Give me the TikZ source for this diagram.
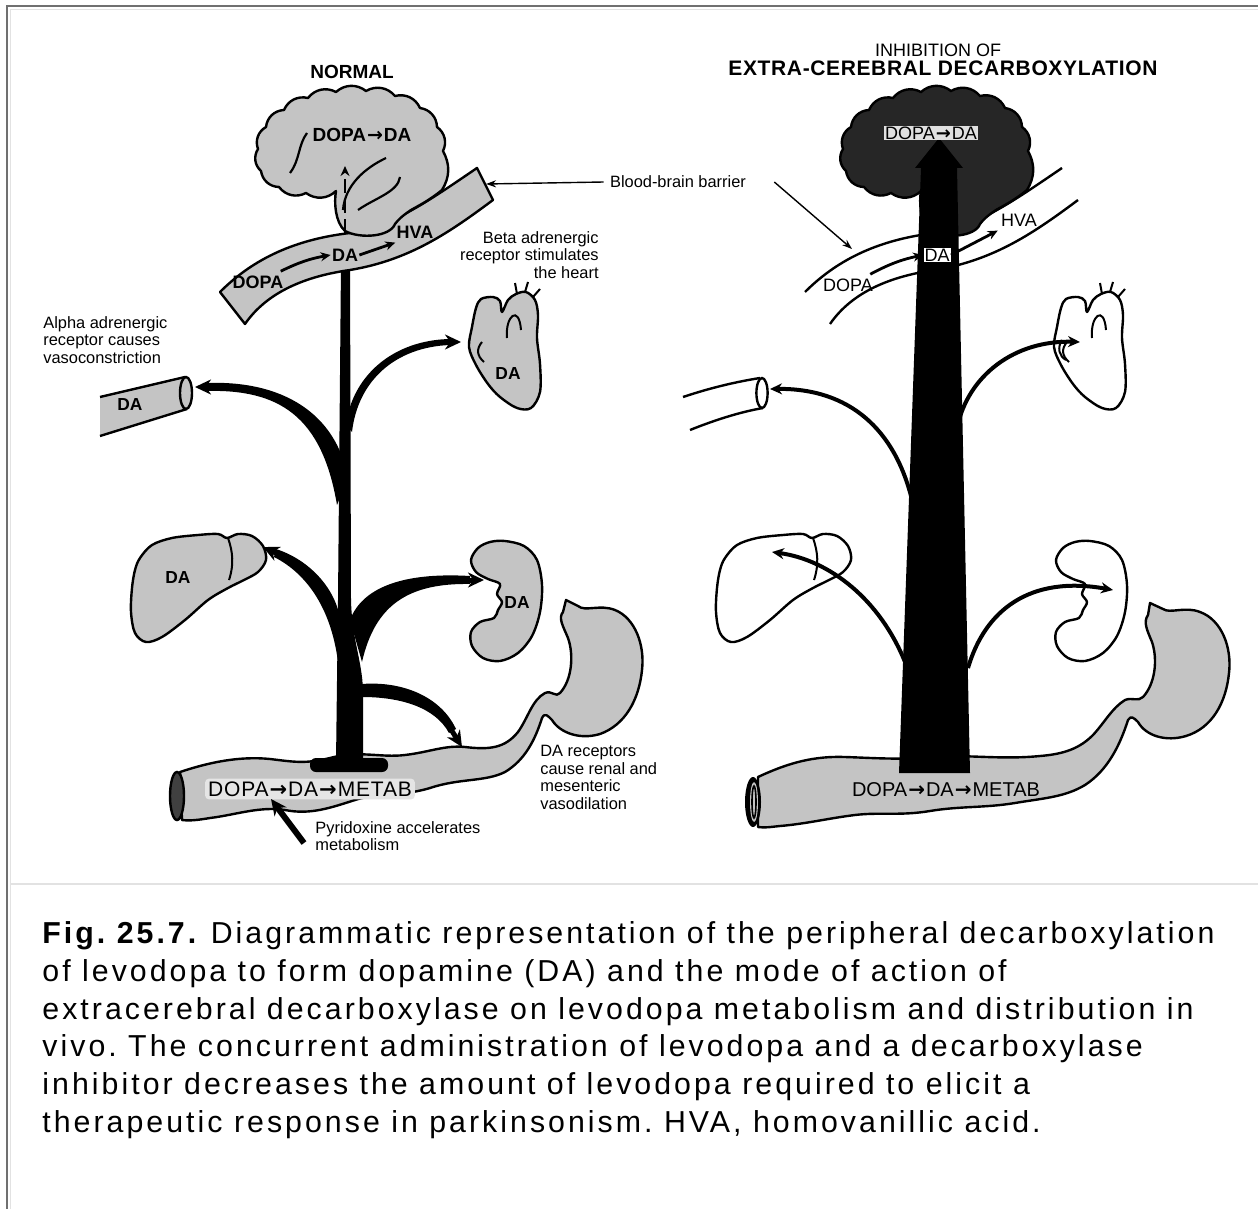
\documentclass[tikz,border=0pt]{standalone}
\usepackage{fontspec}
\setmainfont{Liberation Sans}
\newfontfamily\capfont[LetterSpace=10]{Liberation Sans}
\newfontfamily\arrowfont{DejaVu Sans}
\newcommand\rarr{{\arrowfont\bfseries\kern0.5pt→\kern0.5pt}}
\usetikzlibrary{arrows.meta}
\definecolor{organgray}{RGB}{196,196,196}
\definecolor{framegray}{RGB}{112,112,112}
\definecolor{rulelight}{RGB}{226,226,226}

% ---------- reusable outlines (pixel-like units) ----------
\newcommand\brainshape[1]{%
  \path[#1] (336,191) to[bend left=40] (306,193) to[bend left=40] (279,187)
    to[bend left=40] (261,171) to[bend left=40] (258,149) to[bend left=40] (266,127)
    to[bend left=40] (284,110) to[bend left=40] (308,98) to[bend left=40] (336,92)
    to[bend left=40] (366,91) to[bend left=40] (395,96) to[bend left=40] (420,108)
    to[bend left=40] (437,127) to[bend left=40] (443,151) to[bend left=30] (442,190)
    .. controls (430,200) and (418,206) .. (411,210)
    .. controls (402,216) and (398,220) .. (395,224)
    .. controls (390,237) and (360,239) .. (345,231)
    .. controls (335,222) and (334,202) .. (336,191) -- cycle;}
\newcommand\bandshape[1]{%
  \path[#1] (220,292) .. controls (250,262) and (290,240) .. (350,233)
    .. controls (390,228) and (430,200) .. (477,168) -- (493,200)
    .. controls (450,232) and (410,260) .. (350,270)
    .. controls (300,277) and (265,295) .. (245,324) -- cycle;}
\newcommand\bandedges[1]{%
  \path[#1] (220,292) .. controls (250,262) and (290,240) .. (350,233)
    .. controls (390,228) and (430,200) .. (477,168);
  \path[#1] (493,200) .. controls (450,232) and (410,260) .. (350,270)
    .. controls (300,277) and (265,295) .. (245,324);}
\newcommand\heartshape[1]{%
  \path[#1] plot[smooth cycle, tension=0.55] coordinates {(502,312) (508,300)
    (516,294) (526,292) (535,300) (538,315) (537,338) (540,364) (540,392)
    (531,408) (517,408) (500,397) (488,384) (476,365) (469,347) (472,327)
    (476,308) (481,299) (493,297) (500,301)};}
\newcommand\heartlines[1]{%
  \path[#1] (517,294) -- (515,283) (525,292) -- (528,282) (533,297) -- (540,289);
  \path[#1] (507,338) .. controls (505,316) and (519,304) .. (521,330);
  \path[#1] (482,342) .. controls (476,349) and (477,356) .. (484,362);}
\newcommand\kidneyshape[1]{%
  \path[#1] plot[smooth cycle, tension=0.55] coordinates {(505,541) (524,546)
    (537,560) (542,585) (540,612) (532,636) (518,653) (500,661) (483,658)
    (472,646) (471,632) (480,622) (494,618) (498,610) (502,602) (497,594)
    (500,584) (488,579) (476,572) (471,560) (478,548) (490,542)};}
\newcommand\livershape[1]{%
  \path[#1] plot[smooth cycle, tension=0.55] coordinates {(140,558) (152,545)
    (172,538) (198,535) (218,534) (227,538) (238,534) (252,536) (263,546)
    (266,560) (258,572) (244,580) (228,588) (208,600) (185,620) (162,637)
    (146,642) (135,633) (131,612) (132,588) (135,570)};
  \path[draw, line width=1pt] (228,538) .. controls (233,552) and (234,565) .. (229,580);}
% intestine and stomach, normal side
\newcommand\gutshape[1]{%
  \path[#1] (180,772)
    .. controls (210,762) and (240,756) .. (270,759)
    .. controls (295,762) and (305,764) .. (330,758)
    .. controls (360,750) and (380,758) .. (405,755)
    .. controls (430,752) and (445,745) .. (465,747)
    .. controls (490,750) and (505,748) .. (518,732)
    .. controls (528,718) and (532,700) .. (545,693)
    .. controls (552,690) and (556,698) .. (560,693)
    .. controls (572,680) and (574,655) .. (568,638)
    .. controls (563,626) and (558,618) .. (563,612)
    -- (566,600) -- (578,606)
    .. controls (585,612) and (600,604) .. (615,610)
    .. controls (635,618) and (645,645) .. (642,670)
    .. controls (639,700) and (625,725) .. (600,734)
    .. controls (580,740) and (560,733) .. (552,720)
    .. controls (548,716) and (545,712) .. (542,718)
    .. controls (535,740) and (525,760) .. (505,772)
    .. controls (485,782) and (460,778) .. (430,788)
    .. controls (400,797) and (380,792) .. (355,800)
    .. controls (330,808) and (310,815) .. (285,810)
    .. controls (260,806) and (235,815) .. (210,818)
    .. controls (198,820) and (190,821) .. (182,820) -- cycle;}
% intestine and stomach, inhibited side
\newcommand\gutshapeR[1]{%
  \path[#1] (758,777)
    .. controls (790,762) and (815,756) .. (845,757)
    .. controls (875,758) and (900,760) .. (930,757)
    .. controls (965,754) and (1000,760) .. (1040,756)
    .. controls (1065,754) and (1080,748) .. (1093,735)
    .. controls (1105,722) and (1112,708) .. (1125,700)
    .. controls (1132,697) and (1138,702) .. (1143,697)
    .. controls (1155,684) and (1158,660) .. (1152,642)
    .. controls (1147,630) and (1143,622) .. (1148,615)
    -- (1150,603) -- (1163,609)
    .. controls (1170,614) and (1185,606) .. (1200,612)
    .. controls (1222,620) and (1232,648) .. (1229,673)
    .. controls (1226,703) and (1212,728) .. (1186,736)
    .. controls (1166,742) and (1146,736) .. (1138,722)
    .. controls (1134,718) and (1131,715) .. (1128,720)
    .. controls (1120,745) and (1108,770) .. (1085,785)
    .. controls (1065,797) and (1045,798) .. (1015,803)
    .. controls (985,808) and (960,806) .. (930,811)
    .. controls (900,816) and (880,812) .. (855,815)
    .. controls (830,818) and (805,824) .. (780,826)
    .. controls (770,827) and (765,828) .. (758,827) -- cycle;}

\begin{document}
\frenchspacing
\begin{tikzpicture}[x=0.5pt, y=-0.5pt,
  organ/.style={fill=organgray, draw=black, line width=1.2pt, line join=round},
  hollow/.style={fill=white, draw=black, line width=1.2pt, line join=round},
  lbl/.style={font=\fontsize{8.2}{8.8}\selectfont, inner sep=0pt},
  tag/.style={font=\bfseries\fontsize{8.7}{10}\selectfont, inner sep=0.5pt},
  bandtxt/.style={font=\fontsize{9}{10}\selectfont, inner sep=0.5pt},
  headL/.style={-{Stealth[length=8pt,width=7.5pt]}, line width=2.5pt},
  thinb/.style={-{Stealth[length=6pt,width=5.5pt]}, line width=2pt},
  bandarrow/.style={-{Stealth[length=5pt,width=4.5pt]}, line width=1.4pt},
  pointer/.style={-{Stealth[length=5pt,width=3.5pt]}, line width=0.7pt},
  capline/.style={anchor=base west, inner sep=0pt,
    font=\capfont\fontsize{15.15}{18}\selectfont}
]
\useasboundingbox (0,0) rectangle (1258,1209);
\fill[white] (0,0) rectangle (1258,1209);

% frame and caption rule
\draw[framegray, line width=1pt] (7,1209) -- (7,6) -- (1258,6);
\draw[rulelight, line width=0.7pt] (10.5,1209) -- (10.5,9.5) -- (1258,9.5);
\draw[rulelight, line width=1pt] (11,884) -- (1258,884);

% ================= NORMAL =================
\node[font=\bfseries\fontsize{9.5}{11}\selectfont] (normal) at (352,72) {NORMAL};

% organs
\gutshape{organ}
\fill[black!75] (177,796) ellipse [x radius=3.5pt, y radius=12pt];
\draw[line width=1.2pt] (177,796) ellipse [x radius=3.5pt, y radius=12pt];
\livershape{organ}
\kidneyshape{organ}
\heartshape{organ}
\heartlines{draw, line width=1pt}
% vessel segment
\fill[organgray] (100,397) -- (185,377) -- (187,409) -- (100,436) -- cycle;
\draw[line width=1.2pt] (100,397) -- (185,377) (100,436) -- (187,409);
\draw[line width=1.2pt, fill=organgray] (186,393) ellipse [x radius=3pt, y radius=8pt];

% trunk and branches
\fill (341,262) -- (350,262) -- (351,600) .. controls (352,640) and (362,660) .. (363,690)
  -- (363,762) -- (336,762) -- (338,600) -- cycle;
\fill[rounded corners=3pt] (310,758) rectangle (388,772);
% to the vessel
\fill (348,478) .. controls (336,413) and (282,380) .. (206,383) -- (206,391)
  .. controls (279,389) and (322,416) .. (337,505) -- cycle;
\draw[headL] (212,387) -- (195,387);
% to the heart
\fill (346,425) .. controls (352,376) and (393,340) .. (450,339) -- (450,345)
  .. controls (396,347) and (358,380) .. (352,432) -- cycle;
\draw[headL] (446,342) -- (461,342);
% to the liver
\fill (338,662) .. controls (330,600) and (300,570) .. (274,557) -- (276,549)
  .. controls (310,560) and (338,590) .. (341,625) -- cycle;
\draw[headL] (280,555) -- (263,547);
% to the kidney
\fill (350,620) .. controls (362,588) and (402,572) .. (470,576) -- (470,584)
  .. controls (408,583) and (375,605) .. (362,662) -- cycle;
\draw[headL] (466,580) -- (484,580);
% to the gut wall
\fill (362,684) .. controls (400,681) and (440,695) .. (456,729) -- (449,733)
  .. controls (435,707) and (400,697) .. (362,697) -- cycle;
\draw[headL] (452,731) -- (462,747);

% barrier band and brain
\bandshape{organ}
\brainshape{organ}
\draw[line width=1.1pt] (307,133) .. controls (298,145) and (300,160) .. (290,173);
\draw[line width=1.1pt] (386,158) .. controls (365,168) and (345,185) .. (343,210);
\draw[line width=1.1pt] (400,177) .. controls (398,192) and (375,198) .. (358,210);
\draw[line width=1.2pt, dash pattern=on 7pt off 3pt, -{Stealth[length=5pt,width=4.5pt]}] (345,233) -- (345,166);

% labels
\node[bandtxt, font=\bfseries\fontsize{9.5}{11}\selectfont] (brainL) at (362,135) {DOPA\rarr DA};
\node[bandtxt, font=\bfseries\fontsize{9}{10}\selectfont] (dopaL) at (258,282) {DOPA};
\node[bandtxt, font=\bfseries\fontsize{9}{10}\selectfont] (daL) at (345,255) {DA};
\node[bandtxt, font=\bfseries\fontsize{9}{10}\selectfont] (hvaL) at (415,232) {HVA};
\draw[bandarrow] ([shift={(-4,-3)}]dopaL.north east) to[bend left=8] (daL.west);
\draw[bandarrow] (daL.east) -- ([shift={(0,3)}]hvaL.south west);
\node[tag] (daTube) at (130,405) {DA};
\node[tag] (daHeart) at (508,374) {DA};
\node[tag] (daLiver) at (178,578) {DA};
\node[tag] (daKidney) at (517,603) {DA};
\node[font=\fontsize{10.5}{12}\selectfont\addfontfeatures{LetterSpace=4}, fill=white!90!black,
  rounded corners=2pt, inner sep=1.5pt] (gutL) at (310,789) {DOPA\rarr DA\rarr METAB};

\node[lbl, align=left, anchor=north west] (alpha) at (43,316)
  {Alpha adrenergic\\receptor causes\\vasoconstriction};
\node[lbl, align=right, anchor=north east] (beta) at (599,231)
  {Beta adrenergic\\receptor stimulates\\the heart};
\node[lbl, align=left, anchor=north west] (darec) at (540,745)
  {DA receptors\\cause renal and\\mesenteric\\vasodilation};
\node[lbl, align=left, anchor=north west] (pyr) at (315,821)
  {Pyridoxine accelerates\\metabolism};
\coordinate (pyrTail) at (304,843);
\coordinate (gutLow) at (271,799);
\draw[-{Stealth[length=8pt,width=7.5pt]}, line width=3pt] (pyrTail) -- (gutLow);

% blood-brain barrier label
\node[lbl] (bbb) at (678,182) {Blood-brain barrier};
\coordinate (bandEndL) at (486,184);
\coordinate (bandTopR) at (852,249);
\draw[pointer] ([xshift=-3]bbb.west) -- (bandEndL);
\draw[pointer] ([xshift=14]bbb.east) -- (bandTopR);

% ================= INHIBITION =================
\node[font=\fontsize{9}{10}\selectfont] (inhib) at (938,50) {INHIBITION OF};
\node[font=\bfseries\fontsize{10.5}{12}\selectfont\addfontfeatures{LetterSpace=3}] (extra)
  at (943,68) {EXTRA-CEREBRAL DECARBOXYLATION};

\begin{scope}[shift={(585,0)}]
  \bandedges{draw, line width=1.2pt}
  \brainshape{fill=black!85, draw=black, line width=1.2pt}
  \livershape{hollow}
  \kidneyshape{hollow}
  \heartshape{hollow}
  \heartlines{draw, line width=1pt}
  \draw[line width=1pt] (477,340) .. controls (472,348) and (474,356) .. (481,360);
\end{scope}
\gutshapeR{organ}
\fill (753,802) ellipse [x radius=4pt, y radius=12.5pt];
\fill[organgray] (754,802) ellipse [x radius=2pt, y radius=10pt];
\draw[line width=0.8pt] (754,802) ellipse [x radius=1pt, y radius=8pt];

% hollow vessel segment
\draw[line width=1.2pt] (683,397) .. controls (710,388) and (735,382) .. (760,378);
\draw[line width=1.2pt] (690,430) .. controls (715,420) and (740,412) .. (763,408);
\draw[line width=1.2pt, fill=white] (762,393) ellipse [x radius=2.8pt, y radius=7.5pt];

% trunk and branches
\fill (899,773) -- (921,168) -- (915,168) -- (939,138) -- (963,168) -- (957,168)
  -- (970,773) -- cycle;
\draw[thinb] (912,500) .. controls (895,430) and (850,388) .. (770,389);
\draw[thinb] (957,428) .. controls (968,375) and (1015,340) .. (1080,342);
\draw[thinb] (905,662) .. controls (880,600) and (830,560) .. (772,552);
\draw[thinb] (968,668) .. controls (985,610) and (1030,575) .. (1113,590);

% labels
\node[bandtxt, fill=white!88!black] (brainR) at (931,133) {DOPA\rarr DA};
\node[bandtxt] (dopaR) at (848,285) {DOPA};
\node[bandtxt, fill=white] (daR) at (937,255) {DA};
\node[bandtxt] (hvaR) at (1019,220) {HVA};
\draw[bandarrow] ([shift={(-4,-3)}]dopaR.north east) to[bend left=8] (daR.west);
\draw[bandarrow] (daR.east) -- ([shift={(-2,3)}]hvaR.south west);
\node[font=\fontsize{10}{12}\selectfont, inner sep=1pt] (gutR) at (946,790) {DOPA\rarr DA\rarr METAB};

% ================= caption =================
\node[capline] (cap1) at (42,943) {\textbf{Fig. 25.7.} Diagrammatic representation of the peripheral decarboxylation};
\node[capline] (cap2) at (42,981) {of levodopa to form dopamine (DA) and the mode of action of};
\node[capline] (cap3) at (42,1019) {extracerebral decarboxylase on levodopa metabolism and distribution in};
\node[capline] (cap4) at (42,1056) {vivo. The concurrent administration of levodopa and a decarboxylase};
\node[capline] (cap5) at (42,1094) {inhibitor decreases the amount of levodopa required to elicit a};
\node[capline] (cap6) at (42,1132) {therapeutic response in parkinsonism. HVA, homovanillic acid.};
\end{tikzpicture}
\end{document}
